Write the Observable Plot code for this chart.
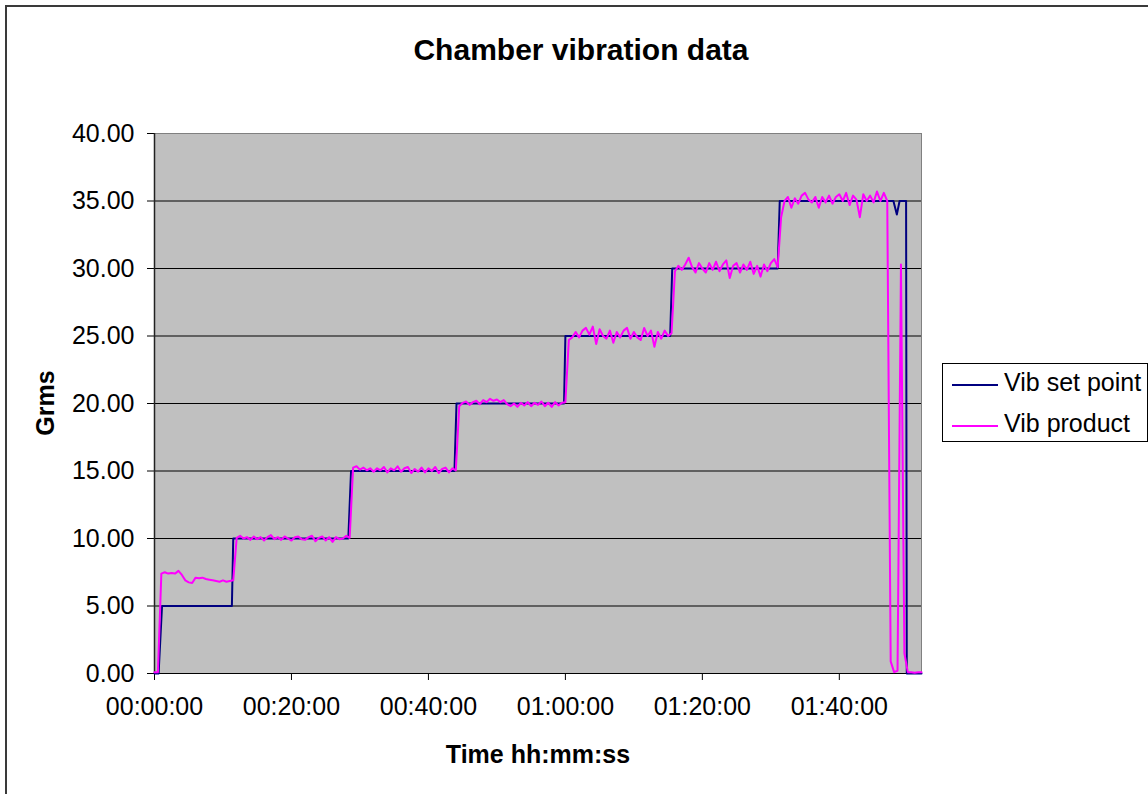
<!DOCTYPE html>
<html>
<head>
<meta charset="utf-8">
<script src="https://cdn.jsdelivr.net/npm/d3@7"></script>
<script src="https://cdn.jsdelivr.net/npm/@observablehq/plot@0.6"></script>
<style>
  body { margin: 0; background: #fff; }
  #chart { position: relative; width: 1148px; height: 794px; overflow: hidden; font-family: "Liberation Sans", Arial, sans-serif; }
  #border { position: absolute; left: 5px; top: 5px; width: 1300px; height: 1000px; border: 2px solid #3a3a3a; box-sizing: border-box; }
  #plot { position: absolute; left: 0; top: 0; }
  #overlay { position: absolute; left: 0; top: 0; pointer-events: none; }
</style>
</head>
<body>
<div id="chart">
  <div id="border"></div>
  <div id="plot"></div>
  <svg id="overlay" width="1148" height="794"></svg>
</div>
<script>
// ---- Data ----
const chartTitle = "Chamber vibration data";
const xTitle = "Time hh:mm:ss";
const yTitle = "Grms";
const seriesNames = ["Vib set point", "Vib product"];
const seriesColors = ["#000080", "#FF00FF"];

// logging interval of the product readings (minutes)
const sampleMinutes = 0.5;

// Vib product readings (Grms), one per sample
const productValues = [
  0.1, 0.1,
  7.4, 7.5, 7.4, 7.45, 7.4, 7.6, 7.3, 6.9, 6.75, 6.7, 7.1, 7.05, 7.1, 7.0, 6.95, 6.9, 6.85, 6.8, 6.9, 6.8, 6.85,
  6.9,
  10.05, 10.2, 10.0, 10.1, 9.9, 10.15, 9.95, 10.1, 9.85, 10.1, 10.25, 9.95, 10.1, 9.9, 10.15, 10.0, 9.85, 10.1, 10.15, 9.95, 9.9, 10.1, 10.2, 9.8, 10.05, 10.15, 9.85, 10.1, 9.75, 10.1, 9.95, 10.0, 10.2, 10.05,
  15.25, 15.35, 15.1, 15.25, 15.05, 15.2, 14.95, 15.2, 15.05, 15.3, 14.9, 15.2, 15.05, 15.35, 14.95, 15.2, 15.3, 14.85, 15.15, 14.95, 15.25, 14.9, 15.2, 15.0, 15.3, 14.85, 15.15, 15.25, 14.9, 15.2, 15.05,
  19.8, 20.05, 20.15, 19.9, 20.1, 20.2, 19.95, 20.25, 20.1, 20.35, 20.2, 20.3, 20.1, 20.25, 19.95, 19.8, 20.0, 19.75, 20.05, 19.85, 20.1, 19.8, 20.05, 19.9, 20.15, 19.8, 20.05, 19.75, 20.1, 19.85, 20.05, 20.1,
  24.7, 24.9, 25.3, 24.9, 25.4, 25.6, 25.1, 25.7, 24.4, 25.5, 25.0, 24.8, 25.4, 24.5, 25.3, 24.9, 25.4, 25.6, 24.8, 25.3, 24.9, 24.7, 25.6, 25.0, 25.4, 24.2, 25.3, 24.8, 25.4, 25.0, 25.2,
  29.8, 30.2, 29.9, 30.3, 30.8, 30.1, 29.7, 30.4, 30.0, 29.7, 30.4, 29.9, 30.5, 29.8, 30.3, 30.6, 29.3, 30.2, 30.4, 29.7, 30.3, 29.9, 30.5, 29.6, 30.2, 29.4, 30.3, 29.8, 30.4, 30.7, 30.1,
  33.8,
  35.0, 35.3, 34.5, 35.2, 34.8, 35.4, 35.6, 35.1, 34.9, 35.3, 34.5, 35.3, 34.9, 35.4, 34.8, 35.3, 35.5, 35.0, 35.6, 34.7, 35.4, 35.1, 33.8, 35.5, 35.0, 35.4, 34.9, 35.7, 35.0, 35.6, 35.0,
  0.9, 0.1, 0.2, 30.3, 1.5, 0.1, 0.1, 0.05, 0.1, 0.1
];

// Vib set point: corner times (minutes) and values (Grms)
const setTimes  = [0, 0.6, 1.1, 11.3, 11.5, 28.3, 28.7, 43.8, 44.1, 59.8, 60.0, 75.3, 75.6, 91.0, 91.3, 107.9, 108.4, 108.8, 109.75, 109.85, 112];
const setValues = [0, 0,   5,   5,    10,   10,   15,   15,   20,   20,   25,   25,   30,   30,   35,   35,    34.0,  35,    35,     0,      0];

const yTicks = [0, 5, 10, 15, 20, 25, 30, 35, 40];
const xTickMinutes = [0, 20, 40, 60, 80, 100];
const xTickLabels = ["00:00:00", "00:20:00", "00:40:00", "01:00:00", "01:20:00", "01:40:00"];
const xDomain = [0, 112];

// ---- Build tables ----
const productData = productValues.map((v, i) => ({ t: i * sampleMinutes, v }));
const setData = setTimes.map((t, i) => ({ t, v: setValues[i] }));

const plot = Plot.plot({
  width: 1148,
  height: 794,
  marginLeft: 154,
  marginRight: 227,
  marginTop: 133,
  marginBottom: 121,
  style: { fontFamily: "'Liberation Sans', Arial, sans-serif", fontSize: "25px", background: "transparent", color: "#000", overflow: "visible" },
  x: {
    domain: xDomain,
    ticks: xTickMinutes,
    tickFormat: d => xTickLabels[xTickMinutes.indexOf(d)],
    tickSize: 7,
    tickPadding: 17,
    label: null
  },
  y: {
    domain: [0, 40],
    ticks: yTicks,
    tickFormat: d => d.toFixed(2),
    tickSize: 7,
    tickPadding: 13,
    label: null
  },
  marks: [
    Plot.frame({ fill: "#C0C0C0" }),
    Plot.ruleY(yTicks.filter(d => d > 0), { stroke: "#000", strokeWidth: 1 }),
    Plot.frame({ stroke: "#808080" }),
    Plot.ruleX([0], { stroke: "#222", strokeWidth: 1.5 }),
    Plot.ruleY([0], { stroke: "#000", strokeWidth: 1.2 }),
    Plot.line(setData, { x: "t", y: "v", stroke: seriesColors[0], strokeWidth: 2 }),
    Plot.line(productData, { x: "t", y: "v", stroke: seriesColors[1], strokeWidth: 2 })
  ]
});
document.getElementById("plot").appendChild(plot);

// ---- Titles and legend ----
const ov = d3.select("#overlay").style("font-family", "'Liberation Sans', Arial, sans-serif");
ov.append("text").attr("x", 581).attr("y", 60).attr("text-anchor", "middle")
  .attr("font-size", 30).attr("font-weight", "bold").text(chartTitle);
ov.append("text").attr("x", 538).attr("y", 763).attr("text-anchor", "middle")
  .attr("font-size", 25).attr("font-weight", "bold").text(xTitle);
ov.append("text").attr("transform", "translate(54,403) rotate(-90)").attr("text-anchor", "middle")
  .attr("font-size", 25).attr("font-weight", "bold").text(yTitle);

const lg = ov.append("g");
lg.append("rect").attr("x", 942.5).attr("y", 363.5).attr("width", 205).attr("height", 78)
  .attr("fill", "#fff").attr("stroke", "#000").attr("stroke-width", 1);
seriesNames.forEach((name, i) => {
  const yy = 385 + i * 41;
  lg.append("line").attr("x1", 952).attr("x2", 998).attr("y1", yy).attr("y2", yy)
    .attr("stroke", seriesColors[i]).attr("stroke-width", 2);
  lg.append("text").attr("x", 1004).attr("y", yy + 6).attr("font-size", 25).text(name);
});
</script>
</body>
</html>
